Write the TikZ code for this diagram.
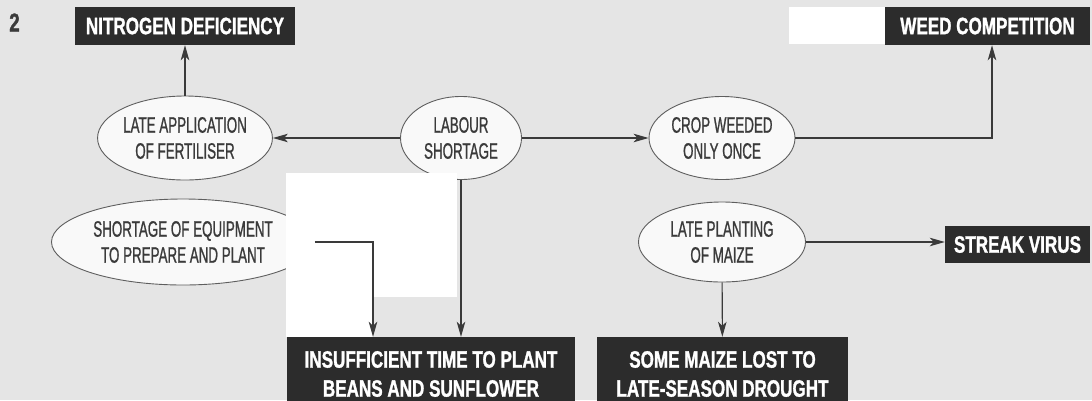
\documentclass[tikz,border=0pt]{standalone}
\usepackage{fontspec}
\usetikzlibrary{arrows.meta,shapes.geometric}
\newfontfamily\boxfont[FakeStretch=0.72,FakeBold=1.2]{Liberation Sans}
\newfontfamily\ovalfont[FakeStretch=0.60,FakeBold=0.9]{Liberation Sans}
\definecolor{paper}{HTML}{E5E5E5}
\definecolor{boxfill}{HTML}{2C2C2C}
\definecolor{ink}{HTML}{3A3A3A}
\definecolor{rim}{HTML}{5E5E5E}
\definecolor{ovalfill}{HTML}{F9F9F9}
\begin{document}
\begin{tikzpicture}[x=1pt,y=-1pt,
  effect/.style={rectangle, fill=boxfill, text=white, inner sep=0pt,
    align=center, font=\boxfont\bfseries\fontsize{23.7}{29}\selectfont},
  cause/.style={ellipse, draw=rim, line width=0.9pt, fill=ovalfill, text=ink,
    inner sep=0pt, align=center, font=\ovalfont\fontsize{22.3}{26}\selectfont},
  mask/.style={fill=white, draw=none},
  arrowline/.style={draw=ink, line width=1.1pt,
    -{Stealth[length=15pt,width=8.5pt,inset=4pt]}}]
  % page
  \useasboundingbox (0,0) rectangle (1092,400);
  \fill[paper] (0,0) rectangle (1092,400);

  % figure number
  \node[text=ink, font=\boxfont\bfseries\fontsize{26}{26}\selectfont] (fignum) at (14.5,22.5) {2};

  % consequences (dark boxes)
  \node[effect, minimum width=220pt, minimum height=38pt] (nitro) at (185,26) {NITROGEN DEFICIENCY};
  \fill[white] (789,7) rectangle (885,44);
  \node[effect, minimum width=205pt, minimum height=38pt] (weed) at (987.5,26) {WEED COMPETITION};
  \node[effect, minimum width=145pt, minimum height=37pt] (streak) at (1017.5,244.5) {STREAK VIRUS};
  \node[effect, minimum width=288pt, minimum height=74pt] (insuff) at (431,374)
    {INSUFFICIENT TIME TO PLANT\\BEANS AND SUNFLOWER};
  \node[effect, minimum width=251pt, minimum height=74pt] (maize) at (722.5,374)
    {SOME MAIZE LOST TO\\LATE-SEASON DROUGHT};

  % causes (ovals)
  \node[cause, minimum width=174pt, minimum height=84pt] (late) at (185,138)
    {LATE APPLICATION\\OF FERTILISER};
  \node[cause, minimum width=121pt, minimum height=83pt] (labour) at (461,138)
    {LABOUR\\SHORTAGE};
  \node[cause, minimum width=146pt, minimum height=83pt] (crop) at (722,138)
    {CROP WEEDED\\ONLY ONCE};
  \node[cause, minimum width=263pt, minimum height=86pt] (equip) at (183,242)
    {SHORTAGE OF EQUIPMENT\\TO PREPARE AND PLANT};
  \node[cause, minimum width=167pt, minimum height=80pt] (planting) at (722,242)
    {LATE PLANTING\\OF MAIZE};

  % blank patch over the middle
  \fill[mask] (286,173) rectangle (457,297);
  \fill[mask] (286,296) rectangle (373,337);

  % connectors
  \draw[arrowline] (labour) -- (late);
  \draw[arrowline] (labour) -- (crop);
  \draw[arrowline] (late) -- (nitro);
  \draw[arrowline] (crop.east) -| ([xshift=4.5pt]weed.south);
  \draw[arrowline] (equip.east) -| ([xshift=-58pt]insuff.north);
  \draw[arrowline] (labour.south) -- (labour.south |- insuff.north);
  \draw[arrowline] (planting) -- (maize);
  \draw[arrowline] (planting.east) -- (planting.east -| streak.west);
\end{tikzpicture}
\end{document}
